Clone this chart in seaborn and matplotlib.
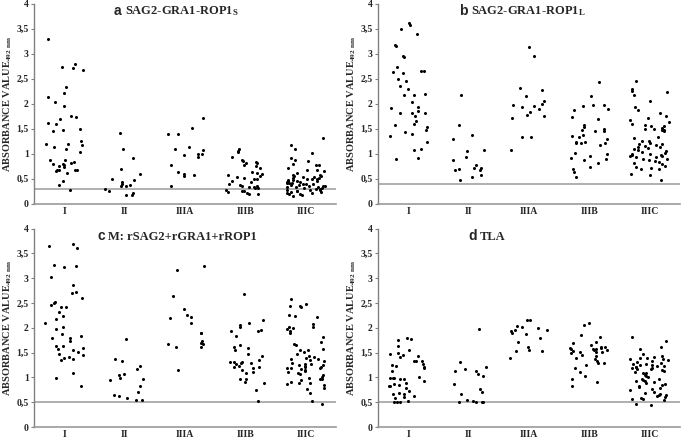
import numpy as np
import pandas as pd
import matplotlib
matplotlib.use("Agg")
import matplotlib.pyplot as plt
import seaborn as sns

sns.set_style("white")
plt.rcParams["font.family"] = ["Liberation Serif", "DejaVu Serif"]
plt.rcParams["mathtext.fontset"] = "custom"
plt.rcParams["mathtext.default"] = "regular"

# ----------------------------------------------------------------
# DATA
# ----------------------------------------------------------------
groups = ["I", "II", "IIIA", "IIIB", "IIIC"]

# a: SAG2-GRA1-ROP1 S
a_I = [3.30, 2.80, 2.73, 2.72, 2.67, 2.34, 2.22, 2.13, 2.03, 1.95, 1.76, 1.73, 1.70,
       1.62, 1.60, 1.50, 1.46, 1.47, 1.25, 1.19, 1.19, 1.18, 1.14, 1.10, 1.03, 0.88,
       0.87, 0.83, 0.81, 0.79, 0.79, 0.78, 0.75, 0.74, 0.68, 0.67, 0.67, 0.67, 0.61,
       0.65, 0.45, 0.38, 0.28]
a_II = [1.42, 1.10, 0.91, 0.70, 0.59, 0.50, 0.47, 0.43, 0.40, 0.37, 0.35, 0.35, 0.30,
        0.25, 0.22, 0.18, 0.18]
a_IIIA = [1.71, 1.51, 1.40, 1.39, 1.13, 1.10, 1.07, 1.00, 0.99, 0.97, 0.93, 0.77, 0.63,
          0.60, 0.57, 0.55, 0.36]
a_IIIB = [1.10, 1.05, 1.04, 0.93, 0.88, 0.85, 0.83, 0.81, 0.81, 0.77, 0.75, 0.71, 0.64,
          0.62, 0.60, 0.57, 0.55, 0.53, 0.52, 0.50, 0.49, 0.45, 0.43, 0.40, 0.38, 0.36,
          0.35, 0.34, 0.33, 0.32, 0.31, 0.28, 0.26, 0.25, 0.24, 0.22, 0.20, 0.20]
a_IIIC = [1.32, 1.17, 1.09, 1.02, 0.91, 0.87, 0.85, 0.79, 0.78, 0.77, 0.71, 0.68, 0.67,
          0.65, 0.62, 0.58, 0.57, 0.56, 0.55, 0.54, 0.53, 0.52, 0.51, 0.50, 0.50, 0.49,
          0.48, 0.47, 0.46, 0.46, 0.45, 0.44, 0.43, 0.42, 0.42, 0.41, 0.40, 0.40, 0.39,
          0.38, 0.37, 0.36, 0.35, 0.35, 0.34, 0.33, 0.33, 0.32, 0.31, 0.30, 0.29, 0.28,
          0.28, 0.27, 0.26, 0.25, 0.24, 0.23, 0.22, 0.21, 0.20, 0.19, 0.18, 0.15]

# b: SAG2-GRA1-ROP1 L
b_I = [3.62, 3.57, 3.50, 3.40, 3.17, 3.15, 2.95, 2.93, 2.74, 2.66, 2.65, 2.64, 2.62,
       2.49, 2.46, 2.35, 2.30, 2.20, 2.17, 2.17, 2.03, 1.93, 1.92, 1.86, 1.82, 1.81,
       1.81, 1.75, 1.65, 1.60, 1.58, 1.53, 1.48, 1.43, 1.40, 1.35, 1.24, 1.10, 1.07,
       0.92, 0.89]
b_II = [2.18, 1.58, 1.38, 1.29, 1.08, 1.05, 0.94, 0.88, 0.78, 0.72, 0.72, 0.70, 0.67,
        0.67, 0.57, 0.54, 0.48]
b_IIIA = [3.14, 2.96, 2.31, 2.28, 2.16, 2.05, 2.00, 1.98, 1.96, 1.94, 1.90, 1.83, 1.78,
          1.75, 1.71, 1.34, 1.34, 1.07]
b_IIIB = [2.44, 2.16, 1.98, 1.97, 1.95, 1.90, 1.88, 1.74, 1.70, 1.57, 1.53, 1.50, 1.47,
          1.45, 1.45, 1.38, 1.35, 1.33, 1.30, 1.24, 1.23, 1.22, 1.22, 1.21, 1.18, 1.01,
          0.99, 0.96, 0.91, 0.89, 0.87, 0.82, 0.73, 0.70, 0.64, 0.53]
b_IIIC = [2.46, 2.29, 2.26, 2.24, 2.18, 2.06, 1.93, 1.87, 1.82, 1.75, 1.72, 1.68, 1.64,
          1.59, 1.57, 1.56, 1.55, 1.51, 1.50, 1.50, 1.48, 1.47, 1.45, 1.34, 1.31, 1.26,
          1.25, 1.22, 1.20, 1.20, 1.18, 1.15, 1.14, 1.13, 1.11, 1.10, 1.07, 1.05, 1.03,
          1.02, 1.00, 0.99, 0.98, 0.97, 0.96, 0.95, 0.94, 0.93, 0.90, 0.89, 0.88, 0.85,
          0.84, 0.82, 0.80, 0.76, 0.73, 0.71, 0.70, 0.69, 0.59, 0.58, 0.47]

# c: M: rSAG2+rGRA1+rROP1
c_I = [3.69, 3.64, 3.61, 3.26, 3.24, 3.22, 3.03, 2.86, 2.72, 2.70, 2.61, 2.52, 2.50,
       2.46, 2.42, 2.41, 2.32, 2.24, 2.17, 2.10, 2.01, 1.97, 1.87, 1.84, 1.80, 1.79,
       1.73, 1.64, 1.63, 1.59, 1.57, 1.56, 1.51, 1.47, 1.46, 1.42, 1.39, 1.37, 1.35,
       1.08, 0.98, 0.82]
c_II = [1.78, 1.38, 1.34, 1.24, 1.18, 1.06, 1.05, 0.98, 0.97, 0.95, 0.82, 0.71, 0.64,
        0.62, 0.59, 0.55, 0.54]
c_IIIA = [3.24, 3.17, 2.65, 2.37, 2.25, 2.22, 2.20, 2.09, 1.90, 1.89, 1.73, 1.69, 1.68,
          1.67, 1.62, 1.61, 1.14]
c_IIIB = [2.68, 2.16, 2.09, 2.05, 2.02, 1.96, 1.94, 1.93, 1.84, 1.66, 1.62, 1.60, 1.55,
          1.47, 1.44, 1.36, 1.32, 1.31, 1.31, 1.30, 1.29, 1.28, 1.24, 1.22, 1.21, 1.20,
          1.15, 1.10, 1.09, 0.97, 0.96, 0.91, 0.88, 0.75, 0.53]
c_IIIC = [2.58, 2.49, 2.44, 2.43, 2.41, 2.25, 2.24, 2.21, 2.07, 2.02, 2.01, 2.00, 1.97,
          1.93, 1.90, 1.82, 1.71, 1.68, 1.66, 1.58, 1.56, 1.55, 1.51, 1.48, 1.44, 1.42,
          1.40, 1.38, 1.37, 1.35, 1.33, 1.30, 1.28, 1.27, 1.26, 1.25, 1.24, 1.22, 1.21,
          1.20, 1.20, 1.19, 1.18, 1.15, 1.13, 1.11, 1.09, 1.07, 1.05, 1.00, 0.98, 0.97,
          0.96, 0.95, 0.90, 0.89, 0.88, 0.86, 0.84, 0.79, 0.77, 0.69, 0.53, 0.46]

# d: TLA
d_I = [1.80, 1.77, 1.76, 1.63, 1.55, 1.50, 1.47, 1.46, 1.43, 1.41, 1.34, 1.33, 1.33,
       1.27, 1.26, 1.24, 1.21, 1.20, 1.12, 1.00, 0.99, 0.99, 0.98, 0.97, 0.96, 0.93,
       0.88, 0.86, 0.85, 0.82, 0.82, 0.78, 0.73, 0.68, 0.67, 0.66, 0.62, 0.61, 0.58,
       0.52, 0.51, 0.51, 0.51]
d_II = [1.97, 1.31, 1.21, 1.17, 1.13, 1.12, 1.07, 1.02, 0.87, 0.76, 0.70, 0.66, 0.54,
        0.53, 0.51, 0.51, 0.50, 0.50]
d_IIIA = [2.16, 2.15, 2.03, 2.02, 2.00, 1.96, 1.95, 1.93, 1.90, 1.88, 1.80, 1.72, 1.62,
          1.56, 1.54, 1.53, 1.39]
d_IIIB = [2.10, 2.06, 1.86, 1.82, 1.72, 1.70, 1.65, 1.62, 1.61, 1.60, 1.59, 1.58, 1.58,
          1.57, 1.56, 1.55, 1.54, 1.52, 1.52, 1.51, 1.50, 1.45, 1.43, 1.40, 1.38, 1.33,
          1.30, 1.29, 1.26, 1.19, 1.10, 1.03, 0.97, 0.90, 0.82]
d_IIIC = [1.82, 1.74, 1.62, 1.58, 1.47, 1.43, 1.42, 1.40, 1.39, 1.38, 1.37, 1.35, 1.34,
          1.32, 1.30, 1.28, 1.27, 1.26, 1.25, 1.24, 1.23, 1.22, 1.21, 1.20, 1.19, 1.18,
          1.16, 1.14, 1.12, 1.10, 1.09, 1.08, 1.05, 1.03, 1.00, 0.97, 0.96, 0.95, 0.93,
          0.92, 0.90, 0.88, 0.86, 0.84, 0.82, 0.80, 0.78, 0.76, 0.74, 0.70, 0.68, 0.66,
          0.65, 0.64, 0.63, 0.60, 0.58, 0.57, 0.56, 0.55, 0.46, 0.45]

cutoffs = [0.29, 0.40, 0.50, 0.50]
letters = ["a", "b", "c", "d"]
titles = ["SAG2-GRA1-ROP1$_S$", "SAG2-GRA1-ROP1$_L$", "M: rSAG2+rGRA1+rROP1", "TLA"]
yticks = [0, 0.5, 1, 1.5, 2, 2.5, 3, 3.5, 4]
ytick_labels = ["0", "0,5", "1", "1,5", "2", "2,5", "3", "3,5", "4"]

panels = [
    [a_I, a_II, a_IIIA, a_IIIB, a_IIIC],
    [b_I, b_II, b_IIIA, b_IIIB, b_IIIC],
    [c_I, c_II, c_IIIA, c_IIIB, c_IIIC],
    [d_I, d_II, d_IIIA, d_IIIB, d_IIIC],
]

# ----------------------------------------------------------------
# FIGURE
# ----------------------------------------------------------------
np.random.seed(7)
fig = plt.figure(figsize=(6.85, 4.43), dpi=100)
rects = [
    [0.050, 0.540, 0.440, 0.452],
    [0.552, 0.540, 0.440, 0.452],
    [0.050, 0.036, 0.440, 0.448],
    [0.552, 0.036, 0.440, 0.448],
]
title_x = [0.265, 0.27, 0.21, 0.30]

for i, rect in enumerate(rects):
    ax = fig.add_axes(rect)
    df = pd.DataFrame({
        "group": [g for g, vals in zip(groups, panels[i]) for _ in vals],
        "value": [v for vals in panels[i] for v in vals],
    })
    sns.stripplot(data=df, x="group", y="value", order=groups, color="black",
                  size=2.2, jitter=0.32, linewidth=0, ax=ax)
    ax.axhline(cutoffs[i], color="#9a9a9a", lw=1.1, zorder=0)

    ax.set_xlim(-0.5, 4.5)
    ax.set_ylim(0, 4)
    ax.set_yticks(yticks)
    ax.set_yticklabels(ytick_labels, fontsize=7, fontweight="bold")
    ax.set_xticks(range(len(groups)))
    ax.set_xticklabels(groups, fontsize=7, fontweight="bold")
    ax.tick_params(axis="y", length=2, width=0.8, color="#808080", pad=2, left=True)
    ax.tick_params(axis="x", length=0, pad=2)
    ax.set_xlabel("")
    ax.set_ylabel("ABSORBANCE VALUE$_{492\\ nm}$", fontsize=7.5, fontweight="bold",
                  labelpad=2)

    for side in ["top", "right"]:
        ax.spines[side].set_visible(False)
    ax.spines["left"].set_color("#808080")
    ax.spines["bottom"].set_color("#9a9a9a")
    ax.spines["left"].set_linewidth(1.0)
    ax.spines["bottom"].set_linewidth(1.2)

    letter = ax.annotate(letters[i], xy=(title_x[i], 1.0), xycoords="axes fraction",
                         ha="left", va="top", fontsize=10, fontweight="bold",
                         family=["Liberation Sans", "DejaVu Sans"])
    ax.annotate(titles[i], xy=(1, 0), xycoords=letter, xytext=(2, 0),
                textcoords="offset points", ha="left", va="bottom",
                fontsize=9, fontweight="bold")

fig.savefig("out.png", dpi=100)
